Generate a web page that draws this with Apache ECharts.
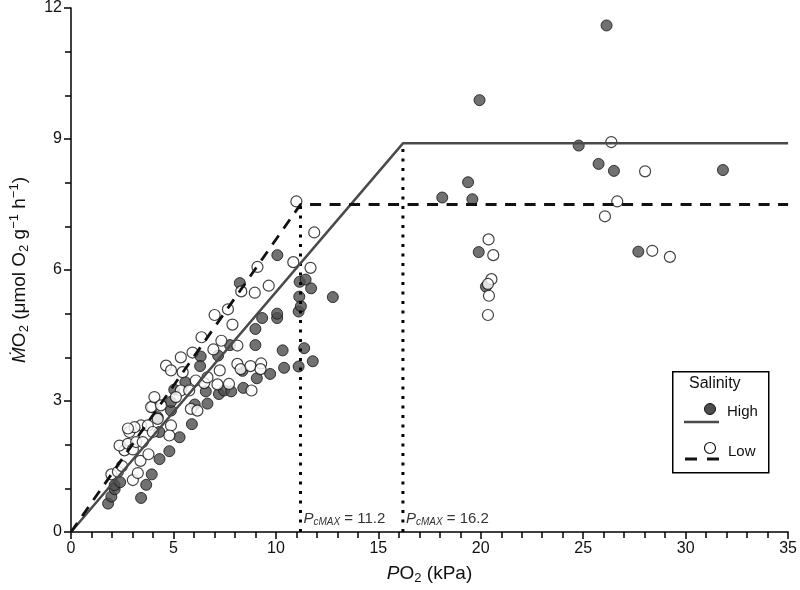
<!DOCTYPE html>
<html>
<head>
<meta charset="utf-8">
<script src="https://cdn.jsdelivr.net/npm/echarts@6/dist/echarts.min.js"></script>
<style>
  html, body { margin: 0; padding: 0; background: #fff; }
  #main { width: 800px; height: 590px; }
</style>
</head>
<body>
<div id="main"></div>
<script>
// measured points, [PO2 kPa, MO2]
const highPoints = [
  [1.81,0.65],[1.97,0.81],[2.13,0.98],[2.13,1.07],[2.40,1.14],[3.42,0.78],[3.67,1.08],[3.94,1.32],
  [4.32,1.67],[4.80,1.85],[5.30,2.17],[4.31,2.29],[4.23,2.63],[4.88,2.78],[4.88,2.98],[5.90,2.47],
  [5.04,3.26],[5.58,3.43],[6.04,2.92],[6.66,2.94],[6.58,3.22],[7.22,3.16],[7.47,3.24],[7.82,3.22],
  [8.41,3.30],[9.07,3.52],[8.37,3.69],[9.72,3.62],[10.40,3.76],[11.11,3.79],[11.80,3.91],[10.33,4.16],
  [11.38,4.21],[9.00,4.28],[9.00,4.65],[9.33,4.90],[10.06,4.90],[10.06,5.00],[11.11,5.05],[11.22,5.17],
  [11.14,5.39],[12.78,5.38],[11.72,5.58],[11.16,5.73],[11.45,5.78],[8.24,5.70],[10.07,6.34],[6.33,4.02],
  [6.30,3.80],[7.76,4.28],[7.18,4.04],
  [18.12,7.66],[19.38,8.01],[19.59,7.62],[19.94,9.89],[19.90,6.41],[20.25,5.62],[24.78,8.85],[25.75,8.43],
  [26.14,11.60],[26.50,8.27],[27.69,6.42],[31.82,8.29]
];
const lowPoints = [
  [1.97,1.32],[2.29,1.38],[2.49,1.51],[2.61,1.87],[2.37,1.98],[2.78,2.02],[3.02,1.89],[3.18,2.06],
  [3.50,2.06],[3.02,1.19],[3.26,1.35],[3.39,1.63],[3.78,1.78],[2.85,2.29],[3.42,2.44],[3.75,2.44],
  [3.99,2.29],[4.23,2.59],[4.88,2.44],[4.80,2.21],[3.99,2.87],[3.10,2.40],[2.78,2.37],[3.91,2.86],
  [4.07,3.09],[4.39,2.90],[4.64,3.81],[4.88,3.70],[5.45,3.66],[5.36,4.00],[5.93,4.11],[5.36,3.24],
  [5.12,3.09],[5.77,3.24],[5.85,2.82],[6.17,2.78],[6.09,3.47],[6.50,3.41],[6.66,3.54],[7.15,3.38],
  [7.26,3.70],[7.71,3.39],[8.12,3.85],[8.28,3.73],[8.76,3.80],[9.28,3.86],[9.25,3.73],[8.81,3.24],
  [6.37,4.46],[6.95,4.18],[7.34,4.38],[8.12,4.27],[7.88,4.75],[7.01,4.97],[7.66,5.10],[8.31,5.51],
  [8.97,5.48],[9.65,5.64],[9.10,6.07],[10.85,6.18],[11.69,6.05],[11.87,6.86],[11.00,7.57],
  [20.38,6.70],[20.61,6.34],[20.52,5.79],[20.35,5.68],[20.40,5.41],[20.35,4.97],[26.37,8.93],[28.02,8.26],
  [26.66,7.57],[26.06,7.23],[28.37,6.44],[29.23,6.30]
];
// broken-stick fits
const highFit = [[0,0],[16.2,8.9],[35,8.9]];
const lowFit = [[0,0],[11.2,7.5],[35,7.5]];
const highPc = [[16.2,0],[16.2,8.9]];
const lowPc = [[11.2,0],[11.2,7.5]];
const xTicks = [0,5,10,15,20,25,30,35];
const yTicks = [0,3,6,9,12];

const FONT = '"Liberation Sans", Arial, sans-serif';
const chart = echarts.init(document.getElementById('main'));

function pcLabel(v){
  return {
    show: true, position: 'right', offset: [-2, -13],
    formatter: '{p|P}{s|cMAX}{t| = ' + v + '}',
    rich: {
      p: {fontFamily: FONT, fontSize: 15, fontStyle: 'italic', color: '#333'},
      s: {fontFamily: FONT, fontSize: 10, fontStyle: 'italic', color: '#333', verticalAlign: 'bottom', padding: [6,0,0,0]},
      t: {fontFamily: FONT, fontSize: 15, color: '#333'}
    }
  };
}

function pcSeries(data, v){
  return {
    type: 'line', data: data, symbol: 'none', z: 4, silent: true,
    lineStyle: {color: '#000', width: 3, type: [3, 6.5], cap: 'butt'},
    label: {show: false},
    markPoint: {
      symbol: 'circle', symbolSize: 0,
      data: [{coord: data[0], value: v, label: pcLabel(v)}]
    }
  };
}

chart.setOption({
  animation: false,
  backgroundColor: '#fff',
  grid: {left: 69.5, right: 10, top: 6, bottom: 58},
  xAxis: {
    type: 'value', min: 0, max: 35, interval: 5,
    name: '{i|P}O{sub|2}{n| (kPa)}', nameLocation: 'middle', nameGap: 30,
    nameTextStyle: {
      fontFamily: FONT, fontSize: 19, color: '#111',
      rich: {
        i: {fontFamily: FONT, fontSize: 19, fontStyle: 'italic', color: '#111'},
        sub: {fontFamily: FONT, fontSize: 13, color: '#111', verticalAlign: 'bottom', padding: [10,0,0,0]},
        n: {fontFamily: FONT, fontSize: 19, color: '#111'}
      }
    },
    axisLine: {onZero: false, lineStyle: {color: '#000', width: 1.5}},
    axisTick: {show: true, inside: false, length: 7, lineStyle: {color: '#000', width: 1.5}},
    minorTick: {show: true, splitNumber: 5, length: 6, lineStyle: {color: '#000', width: 1.5}},
    splitLine: {show: false},
    axisLabel: {
      fontFamily: FONT, fontSize: 16, color: '#111', margin: 9,
      formatter: v => xTicks.includes(v) ? String(v) : ''
    }
  },
  yAxis: {
    type: 'value', min: 0, max: 12, interval: 3,
    name: '{i|Ṁ}O{sub|2}{n| (μmol O}{sub|2}{n| g}{sup|−1}{n| h}{sup|−1}{n|)}',
    nameLocation: 'middle', nameGap: 40, nameRotate: 90,
    nameTextStyle: {
      fontFamily: FONT, fontSize: 19, color: '#111',
      rich: {
        i: {fontFamily: FONT, fontSize: 19, fontStyle: 'italic', color: '#111'},
        sub: {fontFamily: FONT, fontSize: 13, color: '#111', verticalAlign: 'bottom', padding: [10,0,0,0]},
        sup: {fontFamily: FONT, fontSize: 13, color: '#111', verticalAlign: 'top', padding: [0,0,8,0]},
        n: {fontFamily: FONT, fontSize: 19, color: '#111'}
      }
    },
    axisLine: {onZero: false, lineStyle: {color: '#000', width: 1.5}},
    axisTick: {show: true, inside: false, length: 7, lineStyle: {color: '#000', width: 1.5}},
    minorTick: {show: true, splitNumber: 3, length: 6, lineStyle: {color: '#000', width: 1.5}},
    splitLine: {show: false},
    axisLabel: {
      fontFamily: FONT, fontSize: 16, color: '#111', margin: 9,
      formatter: v => yTicks.includes(v) ? String(v) : ''
    }
  },
  series: [
    {
      name: 'High', type: 'scatter', data: highPoints, symbol: 'circle', symbolSize: 11, z: 2,
      itemStyle: {color: '#4d4d4d', borderColor: '#111', borderWidth: 1}
    },
    {
      name: 'Low', type: 'scatter', data: lowPoints, symbol: 'circle', symbolSize: 11, z: 2,
      itemStyle: {color: '#fff', borderColor: '#111', borderWidth: 1.2}
    },
    {
      name: 'High fit', type: 'line', data: highFit, symbol: 'none', z: 5, silent: true,
      lineStyle: {color: '#4a4a4a', width: 2.5}
    },
    {
      name: 'Low fit', type: 'line', data: lowFit, symbol: 'none', z: 5, silent: true,
      lineStyle: {color: '#111', width: 2.8, type: [11, 8.5]}
    },
    pcSeries(lowPc, 11.2),
    pcSeries(highPc, 16.2)
  ],
  graphic: [
    {type: 'rect', left: 672, top: 371, shape: {width: 96, height: 101},
     style: {fill: '#fff', stroke: '#000', lineWidth: 1.5}, z: 10},
    {type: 'text', left: 689, top: 376, z: 11,
     style: {text: 'Salinity', font: '16px "Liberation Sans", Arial, sans-serif', fill: '#111'}},
    {type: 'circle', shape: {cx: 710, cy: 409, r: 5.5}, z: 11,
     style: {fill: '#4d4d4d', stroke: '#111', lineWidth: 1}},
    {type: 'line', shape: {x1: 684, y1: 422, x2: 719, y2: 422}, z: 11,
     style: {stroke: '#4a4a4a', lineWidth: 2.5}},
    {type: 'text', left: 727, top: 404, z: 11,
     style: {text: 'High', font: '15px "Liberation Sans", Arial, sans-serif', fill: '#111'}},
    {type: 'circle', shape: {cx: 710, cy: 448, r: 5.5}, z: 11,
     style: {fill: '#fff', stroke: '#111', lineWidth: 1.2}},
    {type: 'line', shape: {x1: 685, y1: 459, x2: 719, y2: 459}, z: 11,
     style: {stroke: '#111', lineWidth: 2.8, lineDash: [12, 10]}},
    {type: 'text', left: 728, top: 444, z: 11,
     style: {text: 'Low', font: '15px "Liberation Sans", Arial, sans-serif', fill: '#111'}}
  ]
});
</script>
</body>
</html>
